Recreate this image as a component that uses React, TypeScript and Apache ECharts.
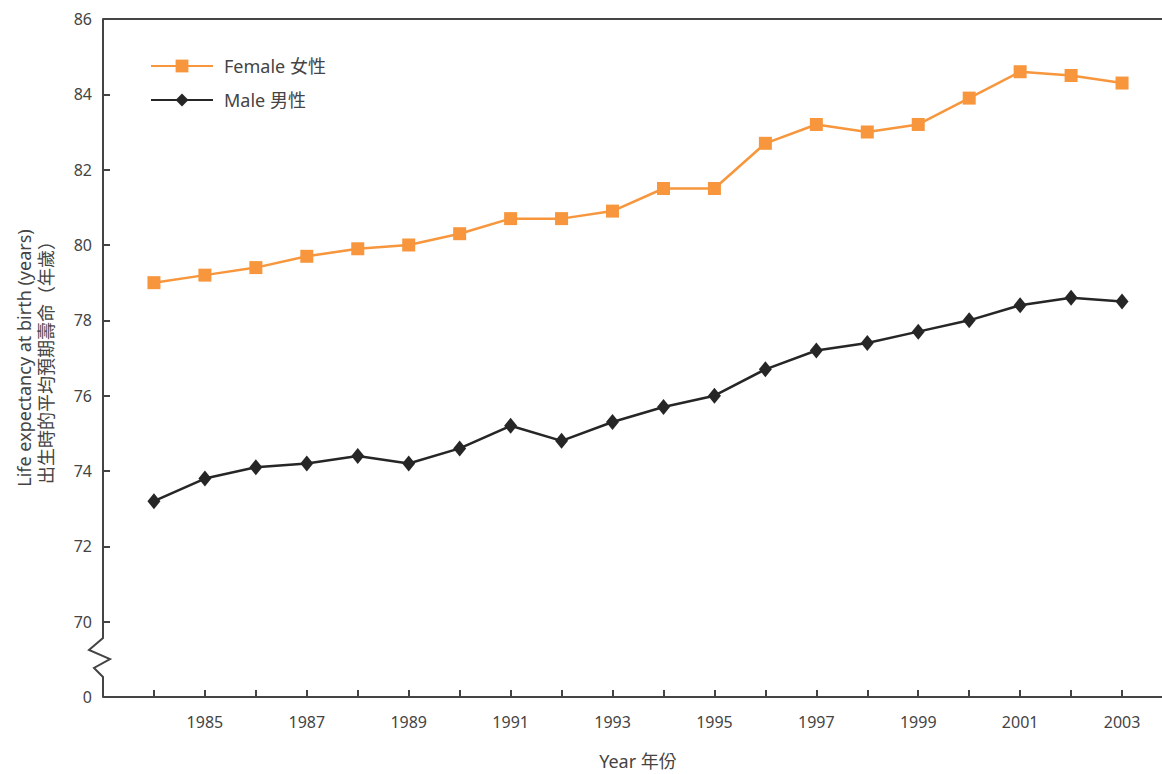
import React, { useEffect, useRef } from "react";
import * as echarts from "echarts";

const years = [1984, 1985, 1986, 1987, 1988, 1989, 1990, 1991, 1992, 1993, 1994, 1995, 1996, 1997, 1998, 1999, 2000, 2001, 2002, 2003];
const female = [79.0, 79.2, 79.4, 79.7, 79.9, 80.0, 80.3, 80.7, 80.7, 80.9, 81.5, 81.5, 82.7, 83.2, 83.0, 83.2, 83.9, 84.6, 84.5, 84.3];
const male = [73.2, 73.8, 74.1, 74.2, 74.4, 74.2, 74.6, 75.2, 74.8, 75.3, 75.7, 76.0, 76.7, 77.2, 77.4, 77.7, 78.0, 78.4, 78.6, 78.5];
const seriesNames = ["Female 女性", "Male 男性"];
const xAxisName = "Year 年份";
const yAxisName = "Life expectancy at birth (years)\n出生時的平均預期壽命（年歲）";
const yBreakValue = 68; // shown as "0" below the axis break

const FONT = "'Noto Sans', 'Noto Sans CJK TC', sans-serif";
const TXT = "#444";
const AX = "#444";
const ORANGE = "#F7963C";
const BLACK = "#262626";

export default function App() {
  const ref = useRef<HTMLDivElement>(null);
  useEffect(() => {
    const chart = echarts.init(ref.current!, null, { renderer: "svg" });
    const gl = 103, gt = 19, gb = 697;
    chart.setOption({
      animation: false,
      backgroundColor: "#fff",
      textStyle: { fontFamily: FONT },
      grid: {
        left: gl,
        top: gt,
        bottom: 774 - gb,
        right: -11,
        containLabel: false,
        outerBoundsMode: "none",
      },
      legend: {
        orient: "vertical",
        left: 145,
        top: 52,
        itemWidth: 62,
        itemHeight: 16,
        itemGap: 16,
        textStyle: { fontSize: 18, color: TXT, fontFamily: FONT, padding: [0, 0, 0, 6] },
        data: seriesNames,
      },
      xAxis: [
        {
          type: "value",
          min: 1983,
          max: 2004,
          interval: 1,
          name: xAxisName,
          nameLocation: "middle",
          nameGap: 55,
          nameTextStyle: { fontSize: 18, color: TXT, fontFamily: FONT },
          axisLine: { show: true, lineStyle: { color: AX, width: 2 } },
          axisTick: { show: true, inside: true, length: 7, lineStyle: { color: AX, width: 2 } },
          axisLabel: {
            fontSize: 16,
            color: TXT,
            margin: 17,
            fontFamily: FONT,
            formatter: (v: number) => (v >= 1985 && v <= 2003 && v % 2 === 1 ? String(v) : ""),
          },
          splitLine: { show: false },
        },
        {
          type: "value",
          position: "top",
          min: 1983,
          max: 2004,
          axisLine: { show: true, lineStyle: { color: AX, width: 2 } },
          axisTick: { show: false },
          axisLabel: { show: false },
          splitLine: { show: false },
        },
      ],
      yAxis: {
        type: "value",
        min: yBreakValue,
        max: 86,
        interval: 2,
        name: yAxisName,
        nameLocation: "middle",
        nameGap: 46,
        nameTextStyle: { fontSize: 18, color: TXT, fontFamily: FONT, lineHeight: 22, align: "center" },
        axisLine: { show: false },
        axisTick: { show: true, inside: true, length: 7, lineStyle: { color: AX, width: 2 } },
        axisLabel: {
          fontSize: 16,
          color: TXT,
          margin: 11,
          fontFamily: FONT,
          formatter: (v: number) => (v === yBreakValue ? "0" : String(v)),
        },
        splitLine: { show: false },
      },
      series: [
        {
          name: seriesNames[0],
          type: "line",
          data: years.map((y, i) => [y, female[i]]),
          symbol: "rect",
          symbolSize: 13,
          lineStyle: { color: ORANGE, width: 2.5 },
          itemStyle: { color: ORANGE },
          z: 3,
        },
        {
          name: seriesNames[1],
          type: "line",
          data: years.map((y, i) => [y, male[i]]),
          symbol: "diamond",
          symbolSize: [13, 16],
          lineStyle: { color: BLACK, width: 2.5 },
          itemStyle: { color: BLACK },
          z: 3,
        },
      ],
      graphic: [
        {
          type: "polyline",
          z: 10,
          shape: {
            points: [
              [gl, gt],
              [gl, 638],
              [89, 650],
              [110, 659],
              [94, 668],
              [gl, 677],
              [gl, gb],
            ],
          },
          style: { stroke: AX, lineWidth: 2, fill: null },
        },
      ],
    });
    return () => chart.dispose();
  }, []);
  return (
    <div
      ref={ref}
      style={{ position: "fixed", left: 0, top: 0, width: 1162, height: 774, background: "#fff" }}
    />
  );
}
